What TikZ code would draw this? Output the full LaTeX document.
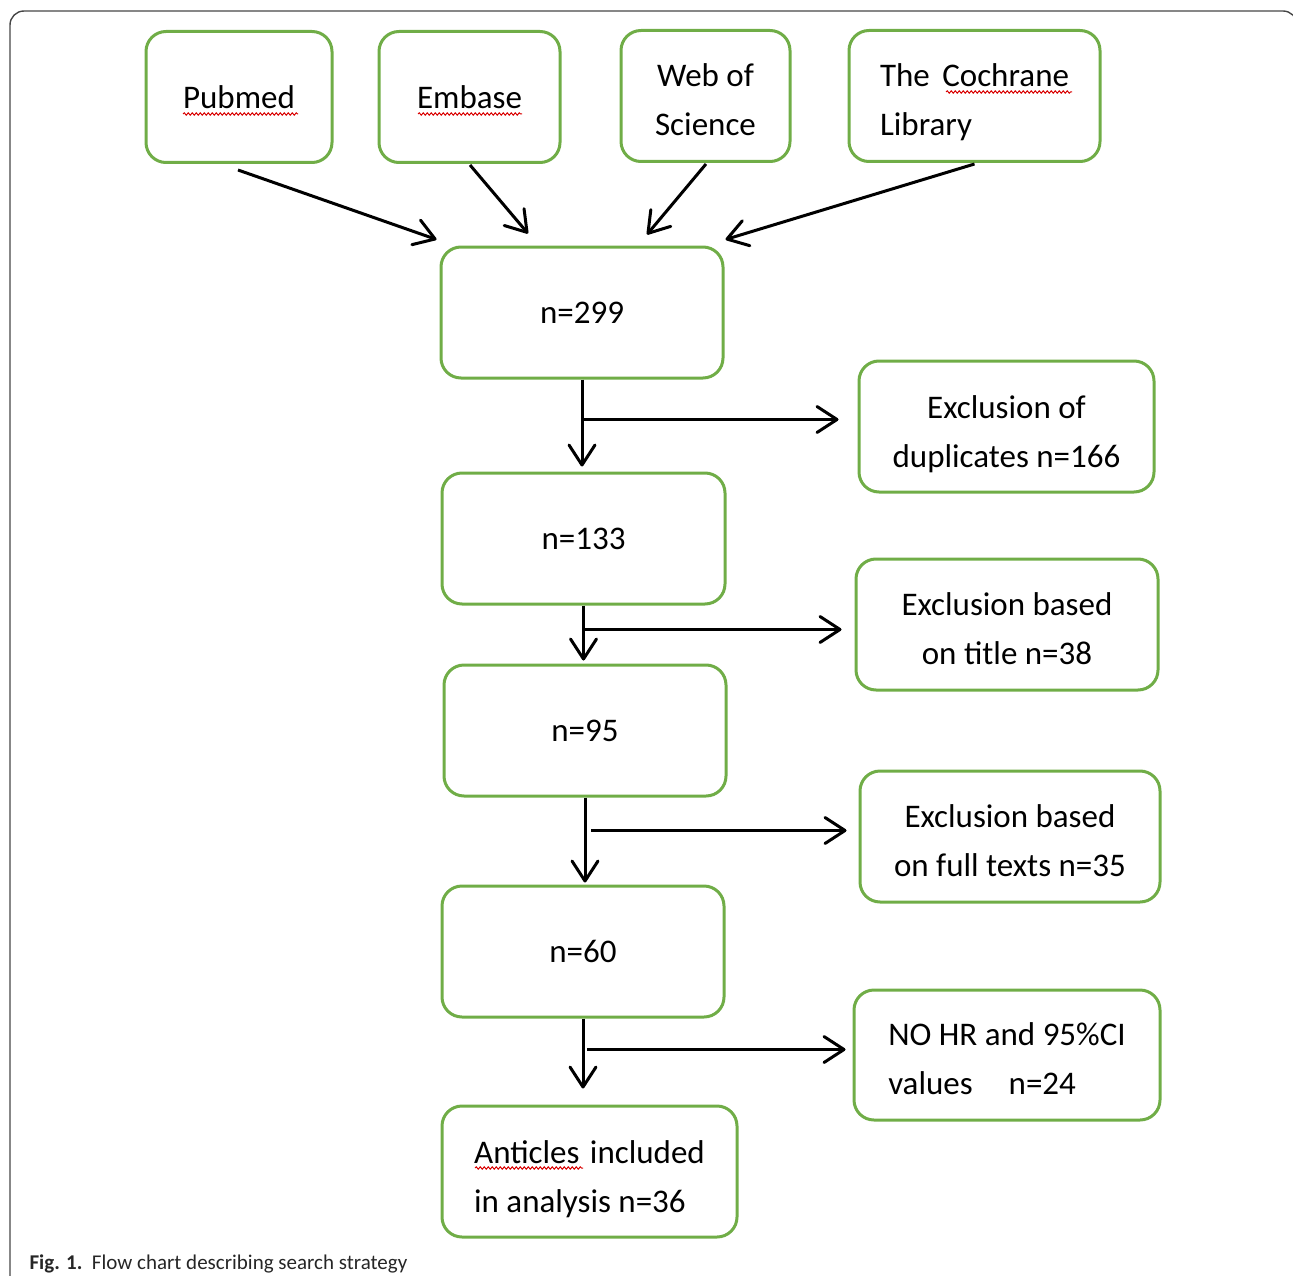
\documentclass[tikz,border=0pt]{standalone}
\usepackage{fontspec}
\setmainfont{Carlito}
\usetikzlibrary{arrows.meta,calc,decorations.pathmorphing}
\definecolor{boxgreen}{RGB}{112,173,71}
\definecolor{framegray}{RGB}{70,70,70}
\newcommand{\padtop}[1]{\rule{0pt}{#1}}
\begin{document}
\begin{tikzpicture}[x=1pt,y=-1pt,
  box/.style={draw=boxgreen, line width=3pt, rounded corners=20pt, minimum height=131pt,
    inner sep=0pt, font=\fontsize{33}{49}\selectfont},
  arr/.style={line width=3pt, -{Straight Barb[length=20pt,width=26pt,line width=3pt,round]}},
  squiggle/.style={draw=red!85!black, line width=1pt, decorate,
    decoration={snake,amplitude=1.2pt,segment length=4pt}},
  frame/.style={draw=framegray, line width=1.4pt, rounded corners=14pt}]
\useasboundingbox (0,0) rectangle (1293,1276);
\clip (0,0) rectangle (1293,1276);
\draw[frame] (10,1300) -- (10,11) -- (1297,11) -- (1297,1300);

% sources
\node[box, minimum width=186pt] (pub) at (239,97) {Pubmed};
\node[box, minimum width=181pt] (emb) at (469.5,97) {Embase};
\node[box, minimum width=169pt, align=center] (wos) at (705.5,96) {\padtop{31pt}Web of\\Science};
\node[box, minimum width=251pt, align=left] (coch) at (974.5,96) {\padtop{35pt}The\hspace{5pt} Cochrane\\Library};

% main column
\node[box, minimum width=282pt] (n299) at (582,312.5) {n=299};
\node[box, minimum width=283pt] (n133) at (583.5,538.5) {n=133};
\node[box, minimum width=282pt] (n95) at (585,730.5) {n=95};
\node[box, minimum width=282pt] (n60) at (583,951.5) {n=60};
\node[box, minimum width=295pt, align=left] (incl) at (589.5,1171.5) {\padtop{39pt}Anticles\hspace{3pt} included\\in analysis n=36};

% exclusions
\node[box, minimum width=295pt, align=center] (exc1) at (1006.5,426.5) {\padtop{38pt}Exclusion of\\duplicates n=166};
\node[box, minimum width=302pt, align=center] (exc2) at (1007,624.5) {\padtop{31pt}Exclusion based\\on title n=38};
\node[box, minimum width=300pt, align=center] (exc3) at (1010,836.5) {\padtop{31pt}Exclusion based\\on full texts n=35};
\node[box, minimum width=306pt, minimum height=130pt, align=left] (exc4) at (1007,1055) {\padtop{31pt}NO HR and 95\%CI\\values\hspace*{36pt}n=24};

% spell-check marks
\draw[squiggle] (183,114) -- (298,114);
\draw[squiggle] (418,114) -- (522,114);
\draw[squiggle] (946,92) -- (1072,92);
\draw[squiggle] (475,1168) -- (583,1168);

% arrows into n=299
\draw[arr] ($(pub.south)+(-1,6)$) -- ($(n299.north west)+(-3,-6)$);
\draw[arr] ($(emb.south)+(0.5,1)$) -- ($(n299.north)+(-54,-12)$);
\draw[arr] ($(wos.south)+(0.5,1)$) -- ($(n299.north)+(65,-11)$);
\draw[arr] ($(coch.south)+(0,1)$) -- ($(n299.north east)+(1,-6)$);

% down the column, with branches
\coordinate (b1) at ($(n299.south)+(0,40)$);
\draw[arr] (n299.south) -- ($(n299.south |- n133.north)+(0,-5)$);
\draw[arr] (b1) -- ($(b1 -| exc1.west)+(-19,0)$);

\coordinate (b2) at ($(n133.south)+(0,24)$);
\draw[arr] (n133.south) -- ($(n133.south |- n95.north)+(0,-3)$);
\draw[arr] (b2) -- ($(b2 -| exc2.west)+(-13,0)$);

\coordinate (b3) at ($(n95.south)+(6,33)$);
\draw[arr] (n95.south) -- ($(n95.south |- n60.north)+(0,-2)$);
\draw[arr] (b3) -- ($(b3 -| exc3.west)+(-12,0)$);

\coordinate (b4) at ($(n60.south)+(4,31)$);
\draw[arr] (n60.south) -- ($(n60.south |- incl.north)+(0,-16)$);
\draw[arr] (b4) -- ($(b4 -| exc4.west)+(-7,0)$);

% caption
\node[anchor=base west, font=\fontsize{21}{25}\selectfont, text=black!85] (cap) at (26,1269)
  {\textbf{Fig. 1.}\ \ Flow chart describing search strategy};
\end{tikzpicture}
\end{document}
